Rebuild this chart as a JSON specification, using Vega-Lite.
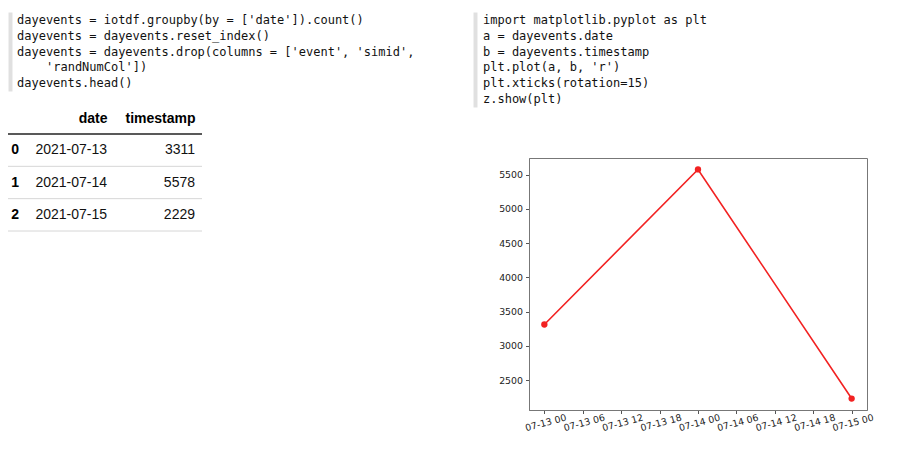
{
  "$schema": "https://vega.github.io/schema/vega-lite/v6.json",
  "background": "white",
  "padding": {"left": 7, "top": 12, "right": 0, "bottom": 0},
  "config": {"view": {"stroke": null}, "font": "Liberation Sans"},
  "datasets": {
    "events": [
      {"idx": "0", "date": "2021-07-13", "timestamp": 3311},
      {"idx": "1", "date": "2021-07-14", "timestamp": 5578},
      {"idx": "2", "date": "2021-07-15", "timestamp": 2229}
    ],
    "cells": [
      {"row": "0", "col": "idx", "text": "0"},
      {"row": "0", "col": "date", "text": "2021-07-13"},
      {"row": "0", "col": "timestamp", "text": "3311"},
      {"row": "1", "col": "idx", "text": "1"},
      {"row": "1", "col": "date", "text": "2021-07-14"},
      {"row": "1", "col": "timestamp", "text": "5578"},
      {"row": "2", "col": "idx", "text": "2"},
      {"row": "2", "col": "date", "text": "2021-07-15"},
      {"row": "2", "col": "timestamp", "text": "2229"}
    ],
    "codeLeft": [
      {"line": 1, "indent": 0, "code": "dayevents = iotdf.groupby(by = ['date']).count()"},
      {"line": 2, "indent": 0, "code": "dayevents = dayevents.reset_index()"},
      {"line": 3, "indent": 0, "code": "dayevents = dayevents.drop(columns = ['event', 'simid',"},
      {"line": 4, "indent": 1, "code": "'randNumCol'])"},
      {"line": 5, "indent": 0, "code": "dayevents.head()"}
    ],
    "codeRight": [
      {"line": 1, "code": "import matplotlib.pyplot as plt"},
      {"line": 2, "code": "a = dayevents.date"},
      {"line": 3, "code": "b = dayevents.timestamp"},
      {"line": 4, "code": "plt.plot(a, b, 'r')"},
      {"line": 5, "code": "plt.xticks(rotation=15)"},
      {"line": 6, "code": "z.show(plt)"}
    ]
  },
  "spacing": 44,
  "hconcat": [
    {
      "spacing": 20,
      "vconcat": [
        {
          "width": 420,
          "height": 79,
          "data": {"name": "codeLeft"},
          "encoding": {
            "y": {"field": "line", "type": "ordinal", "scale": {"paddingInner": 0, "paddingOuter": 0},
                  "axis": {"title": null, "labels": false, "ticks": false, "grid": false, "domainColor": "#e0e0e0", "domainWidth": 4, "offset": -2}},
            "x": {"value": 0},
            "text": {"field": "code"}
          },
          "layer": [
            {
              "transform": [{"filter": "datum.indent == 0"}],
              "mark": {"type": "text", "align": "left", "baseline": "middle", "font": "DejaVu Sans Mono", "fontSize": 12, "color": "#111", "dx": 9},
              "encoding": {}
            },
            {
              "transform": [{"filter": "datum.indent == 1"}],
              "mark": {"type": "text", "align": "left", "baseline": "middle", "font": "DejaVu Sans Mono", "fontSize": 12, "color": "#111", "dx": 38},
              "encoding": {}
            }
          ]
        },
        {
          "width": 194,
          "height": 97,
          "data": {"name": "cells"},
          "encoding": {
            "y": {"field": "row", "type": "ordinal", "scale": {"paddingInner": 0, "paddingOuter": 0}, "axis": null}
          },
          "layer": [
            {
              "transform": [{"filter": "datum.col == 'idx'"}],
              "mark": {"type": "rule", "color": "#d6d6d6", "strokeWidth": 1},
              "encoding": {"y": {"field": "row", "type": "ordinal", "bandPosition": 1}}
            },
            {
              "transform": [{"filter": "datum.col == 'idx' && datum.row == '0'"}],
              "mark": {"type": "rule", "color": "#222", "strokeWidth": 1.5},
              "encoding": {"y": {"field": "row", "type": "ordinal", "bandPosition": 0}}
            },
            {
              "transform": [{"filter": "datum.col == 'idx'"}],
              "mark": {"type": "text", "align": "right", "baseline": "middle", "fontSize": 14, "fontWeight": "bold", "color": "#000"},
              "encoding": {
                "x": {"field": "col", "type": "nominal",
                      "scale": {"type": "point", "domain": ["idx", "date", "timestamp"], "range": [11, 187], "padding": 0},
                      "axis": {"orient": "top", "title": null, "domain": false, "ticks": false, "tickSize": 0, "grid": false,
                               "labelAngle": 0, "labelPadding": 16, "labelFont": "Liberation Sans", "labelFontSize": 14, "labelFontWeight": "bold",
                               "labelColor": "#000", "labelAlign": "right", "labelBaseline": "middle", "labelOverlap": false, "labelBound": false,
                               "labelExpr": "datum.value == 'idx' ? '' : datum.value"}},
                "text": {"field": "text"}
              }
            },
            {
              "transform": [{"filter": "datum.col != 'idx'"}],
              "mark": {"type": "text", "align": "right", "baseline": "middle", "fontSize": 14, "color": "#111"},
              "encoding": {
                "x": {"field": "col", "type": "nominal"},
                "text": {"field": "text"}
              }
            }
          ]
        }
      ]
    },
    {
      "spacing": 50,
      "vconcat": [
        {
          "width": 380,
          "height": 95,
          "data": {"name": "codeRight"},
          "mark": {"type": "text", "align": "left", "baseline": "middle", "font": "DejaVu Sans Mono", "fontSize": 12, "color": "#111", "dx": -46},
          "encoding": {
            "y": {"field": "line", "type": "ordinal", "scale": {"paddingInner": 0, "paddingOuter": 0},
                  "axis": {"title": null, "labels": false, "ticks": false, "grid": false, "domainColor": "#e0e0e0", "domainWidth": 4, "offset": 54}},
            "x": {"value": 0},
            "text": {"field": "code"}
          }
        },
        {
          "width": 338,
          "height": 252,
          "view": {"stroke": "#777", "strokeWidth": 1},
          "data": {"name": "events"},
          "encoding": {
            "x": {"field": "date", "type": "temporal",
                  "scale": {"nice": false, "domain": [1626125760000, 1626315840000]},
                  "axis": {"title": null, "grid": false,
                           "values": [1626134400000, 1626156000000, 1626177600000, 1626199200000, 1626220800000, 1626242400000, 1626264000000, 1626285600000, 1626307200000],
                           "labelExpr": "utcFormat(datum.value, '%m-%d %H')",
                           "labelAngle": -15, "labelAlign": "center", "labelBaseline": "top", "labelPadding": 5,
                           "labelFont": "DejaVu Sans", "labelFontSize": 9.4, "labelColor": "#222", "labelOverlap": false, "labelFlush": false,
                           "tickSize": 3.5, "tickColor": "#555", "domainColor": "#777"}},
            "y": {"field": "timestamp", "type": "quantitative",
                  "scale": {"domain": [2061.55, 5745.45], "nice": false, "zero": false},
                  "axis": {"title": null, "grid": false, "values": [2500, 3000, 3500, 4000, 4500, 5000, 5500], "format": "d",
                           "labelFont": "DejaVu Sans", "labelFontSize": 9.4, "labelColor": "#222", "labelPadding": 3,
                           "tickSize": 3.5, "tickColor": "#555", "domainColor": "#777", "minExtent": 56}}
          },
          "layer": [
            {"mark": {"type": "line", "color": "#f22222", "strokeWidth": 1.6}, "encoding": {}},
            {"mark": {"type": "point", "filled": true, "size": 40, "opacity": 1, "color": "#f22222"}, "encoding": {}}
          ]
        }
      ]
    }
  ]
}
